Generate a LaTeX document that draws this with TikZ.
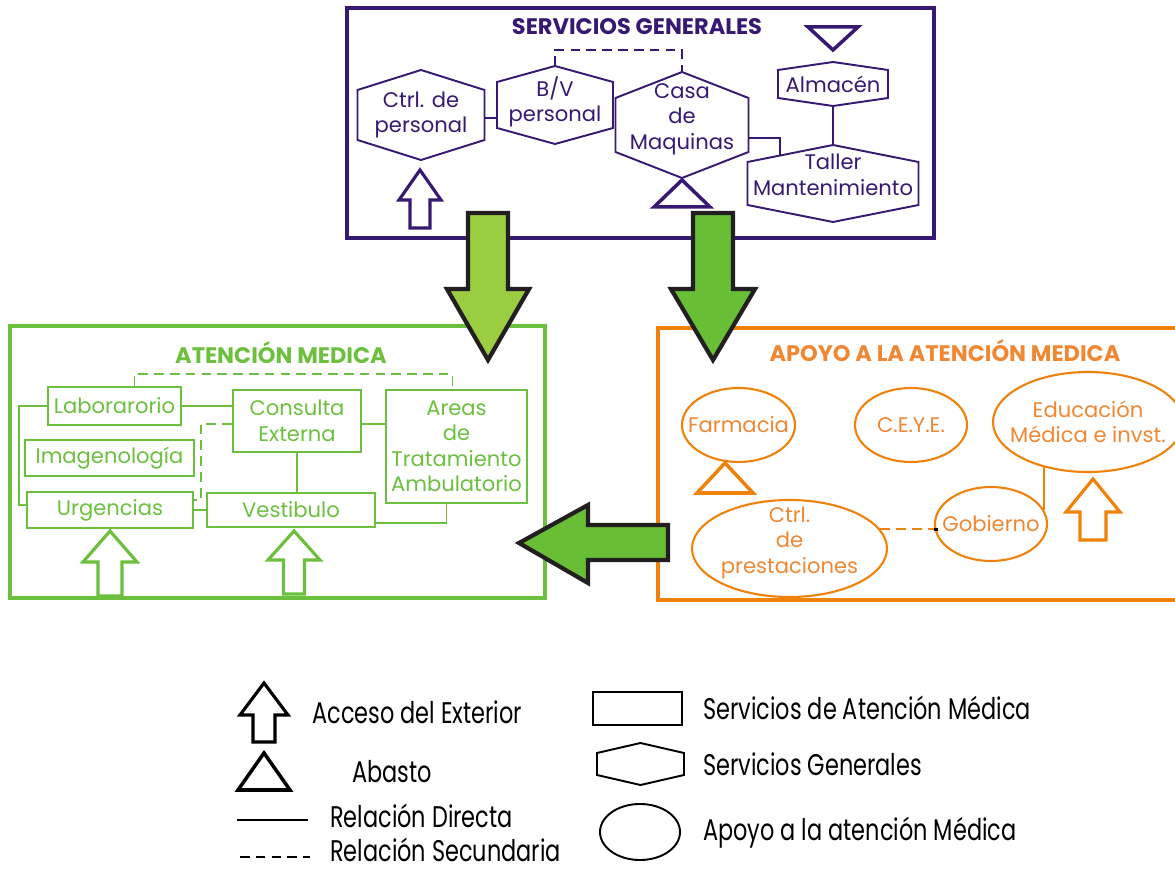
\documentclass[tikz,border=0pt]{standalone}
\usepackage{fontspec}
\setmainfont{Poppins}
\newfontfamily\legfont{Poppins}[FakeStretch=0.75]
\usetikzlibrary{calc,shapes.geometric}

\definecolor{purp}{RGB}{55,25,115}
\definecolor{amgreen}{RGB}{108,192,62}
\definecolor{apo}{RGB}{240,130,10}
\definecolor{apotxt}{RGB}{240,135,50}
\definecolor{arrowA}{RGB}{155,205,65}
\definecolor{arrowB}{RGB}{104,190,52}
\definecolor{arrowline}{RGB}{35,31,32}

\newcommand{\pxu}{0.02cm}
% outline arrow: style, x, foot, head base, tip, shaft half, head half
\newcommand{\accarrow}[7]{\draw[#1] (#2-#6,#3) -- (#2-#6,#4) -- (#2-#7,#4) -- (#2,#5) -- (#2+#7,#4) -- (#2+#6,#4) -- (#2+#6,#3) -- cycle;}

\tikzset{
  boxtitle/.style={inner sep=0pt, font=\fontsize{12.8}{15}\selectfont\bfseries},
  sgtext/.style={text=purp, align=center, inner sep=0pt, font=\fontsize{12}{14.5}\selectfont},
  sgline/.style={draw=purp, line width=1.1pt},
  amnode/.style={draw=amgreen, line width=1.3pt, text=amgreen, align=center, inner sep=0pt, font=\fontsize{12}{14.5}\selectfont},
  amline/.style={draw=amgreen, line width=1.1pt},
  aponode/.style={ellipse, draw=apo, line width=1.2pt, inner sep=0pt},
  apotext/.style={text=apotxt, align=center, inner sep=0pt, font=\fontsize{12}{14.5}\selectfont},
  apoline/.style={draw=apo, line width=1.1pt},
  secline/.style={dash pattern=on 5.5pt off 3.5pt},
  abasto/.style={line width=2pt, line join=miter},
  access/.style={line width=1.8pt, line join=miter, fill=white},
  flow/.style={draw=arrowline, line width=2.4pt, line join=miter},
  legtext/.style={anchor=west, inner sep=0pt, font=\legfont\fontsize{17}{20}\selectfont},
  legline/.style={draw=black, line width=1.1pt},
}

\begin{document}
\begin{tikzpicture}[x=\pxu, y=\pxu]
\useasboundingbox (0,0) rectangle (1175,872);

%%%%%%%%%%
% Servicios generales
%%%%%%%%%%
\draw[purp, line width=2.3pt] (347,864) rectangle (934,634);
\node[boxtitle, text=purp] (sgtitle) at (637,845) {SERVICIOS GENERALES};
\node[sgtext] (ctrl) at (421,757) {Ctrl. de\\personal};
\node[sgtext] (bv) at (555,770) {B/V\\personal};
\node[sgtext] (casa) at (682,753) {Casa\\de\\Maquinas};
\node[sgtext] (alm) at (833,788) {Almacén};
\node[sgtext] (taller) at (833,697) {Taller\\Mantenimiento};
% hexagons: name/width/side/point/offset
\foreach \n/\w/\s/\p/\o in {ctrl/127/50/20/0, bv/116/46/16/-3, casa/133/54/26/-6, alm/110/28/8/0, taller/171/43/17/-8.5}{
  \draw[sgline] ($(\n)+(0,\o+\s/2+\p)$) coordinate (\n-n) -- ++(\w/2,-\p) coordinate (\n-ne)
    -- ++(0,-\s) coordinate (\n-se) -- ++(-\w/2,-\p) coordinate (\n-s)
    -- ++(-\w/2,\p) coordinate (\n-sw) -- ++(0,\s) coordinate (\n-nw) -- cycle;
}
\draw[sgline] (ctrl-se) ++(0,22) coordinate (cb) -- (cb -| bv-sw);
\draw[sgline, secline] (bv-n) -- ++(0,16) -| (casa-n);
\draw[sgline] (casa-se) ++(0,14) -| ($(taller-nw)!0.38!(taller-n)$);
\draw[sgline] (alm-s) -- (taller-n);
% abasto / acceso
\draw[purp, abasto] (808,845) -- (858,845) -- (833,822) -- cycle;
\draw[purp, abasto] (casa-s) ++(0,-2) -- ++(28,-27) -- ++(-56,0) -- cycle;
\accarrow{purp, access}{420}{644}{672}{702}{10}{21}

%%%%%%%%%%
% Atencion medica
%%%%%%%%%%
\draw[amgreen, line width=2.3pt] (10,546) rectangle (545,274);
\node[boxtitle, text=amgreen] (amtitle) at (281,519) {ATENCIÓN MEDICA};
\node[amnode, minimum width=133*\pxu, minimum height=38*\pxu] (lab) at (114.5,466) {Laborarorio};
\node[amnode, minimum width=169*\pxu, minimum height=36*\pxu] (img) at (109.5,414) {Imagenología};
\node[amnode, minimum width=166*\pxu, minimum height=36*\pxu] (urg) at (110,362) {Urgencias};
\node[amnode, minimum width=128*\pxu, minimum height=62*\pxu] (cons) at (297,451) {Consulta\\Externa};
\node[amnode, minimum width=168*\pxu, minimum height=34*\pxu] (vest) at (291,362) {Vestibulo};
\node[amnode, minimum width=141*\pxu, minimum height=113*\pxu] (areas) at (456.5,425.5) {Areas\\de\\Tratamiento\\Ambulatorio};
\draw[amline, secline] (lab.north) ++(20,0) -- ++(0,12) -| ($(areas.north)+(-4,0)$);
\draw[amline] (lab.east) -- (lab.east -| cons.west);
\draw[amline] (lab.west) -- ++(-28,0) |- ($(urg.west)+(0,5)$);
\draw[amline, secline] (cons.west) ++(0,-3) -- ++(-31,0) |- ($(urg.east)+(0,10)$);
\draw[amline] (urg.east) -- (vest.west);
\draw[amline] (cons.south) -- (cons.south |- vest.north);
\draw[amline] (cons.east) ++(0,-3) coordinate (ca) -- (ca -| areas.west);
\draw[amline] (vest.east) ++(0,-13) -| ($(areas.south)+(-10,0)$);
\accarrow{amgreen, access}{110}{276}{310}{341}{12}{27}
\accarrow{amgreen, access}{294}{278}{312}{341}{10.5}{26}

%%%%%%%%%%
% Apoyo a la atencion medica
%%%%%%%%%%
\draw[apo, line width=2.3pt] (658,544) rectangle (1190,272);
\node[boxtitle, text=apotxt] (apotitle) at (945,521) {APOYO A LA ATENCIÓN MEDICA};
\node[aponode, minimum width=113*\pxu, minimum height=74*\pxu, label={[apotext]center:Farmacia}] (farm) at (738.5,447) {};
\node[aponode, minimum width=112*\pxu, minimum height=74*\pxu, label={[apotext]center:C.E.Y.E.}] (ceye) at (911,447) {};
\node[aponode, minimum width=190*\pxu, minimum height=100*\pxu, label={[apotext]center:Educación\\Médica e invst.}] (edu) at (1088,450) {};
\node[aponode, minimum width=195*\pxu, minimum height=97*\pxu, label={[apotext, yshift=0.12cm]center:Ctrl.\\de\\prestaciones}] (prest) at (789.5,323.5) {};
\node[aponode, minimum width=112*\pxu, minimum height=74*\pxu, label={[apotext]center:Gobierno}] (gob) at (991,348) {};
\draw[apoline, secline] (prest.12) -- (prest.12 -| gob.west);
\fill[black] (gob.west |- prest.12) ++(0,-1.5) rectangle ++(4,3);
\draw[apoline] (gob.15) -- (gob.15 |- edu.225);
\draw[apo, abasto] (725,409) -- (753,379) -- (697,379) -- cycle;
\accarrow{apo, access}{1093}{332}{360}{393}{13}{27}

%%%%%%%%%%
% Flow arrows
%%%%%%%%%%
\accarrow{flow, fill=arrowA}{488}{659}{583}{512}{20}{41}
\accarrow{flow, fill=arrowB}{713}{659}{583}{512}{20}{42}
\draw[flow, fill=arrowB] (668,347) -- (588,347) -- (588,367) -- (519,329) -- (588,289) -- (588,312) -- (668,312) -- cycle;

%%%%%%%%%%
% Legend
%%%%%%%%%%
\accarrow{black, access}{264}{130}{157}{189}{11}{24}
\node[legtext] (lacc) at (312,160) {Acceso del Exterior};
\draw[black, abasto] (238,82) -- (290,82) -- (264,119) -- cycle;
\node[legtext] (labas) at (352,100) {Abasto};
\draw[legline] (237,52) -- (308,52);
\node[legtext] (ldir) at (330,56) {Relación Directa};
\draw[legline, secline] (240,15) -- (310,15);
\node[legtext] (lsec) at (330,22) {Relación Secundaria};
\node[draw, line width=1.1pt, minimum width=89*\pxu, minimum height=33*\pxu, inner sep=0pt] (lrect) at (637.5,163.5) {};
\node[legtext] (lsam) at (703,164) {Servicios de Atención Médica};
\draw[legline] (640.5,129) -- (684,119) -- (684,97) -- (640.5,87) -- (597,97) -- (597,119) -- cycle;
\node[legtext] (lsg) at (703,108) {Servicios Generales};
\node[ellipse, draw, line width=1.1pt, minimum width=80*\pxu, minimum height=56*\pxu, inner sep=0pt] (lell) at (640,40) {};
\node[legtext] (lapo) at (703,39) {Apoyo a la atención Médica};
\end{tikzpicture}
\end{document}
